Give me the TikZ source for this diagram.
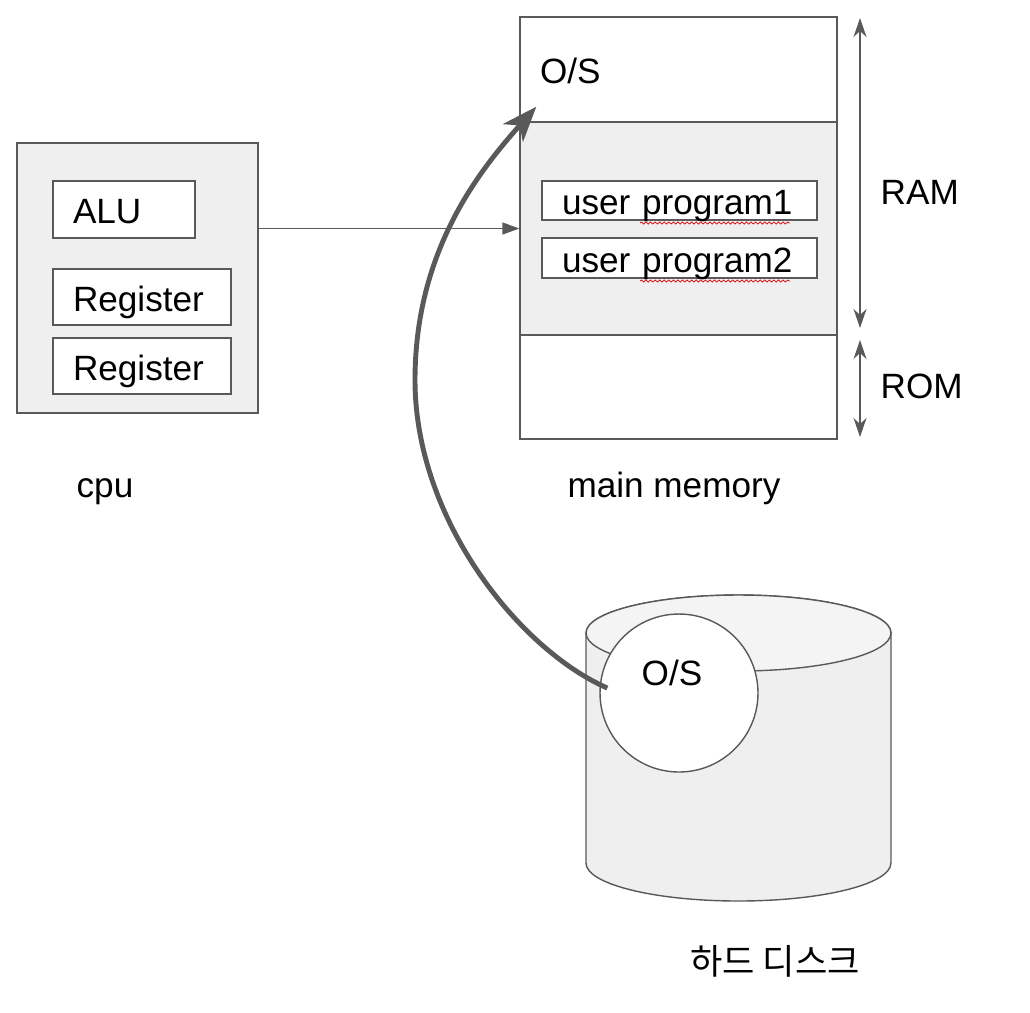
\documentclass[tikz,border=0pt]{standalone}
\usepackage{fontspec}
\setmainfont{Liberation Sans}
\newfontfamily\krfont{Noto Sans CJK KR}
\usetikzlibrary{arrows.meta,decorations.pathmorphing}
\definecolor{lineg}{HTML}{595959}
\definecolor{boxg}{HTML}{EFEFEF}
\definecolor{topg}{HTML}{F4F4F4}

\begin{document}
\begin{tikzpicture}[x=0.02cm,y=-0.02cm,line width=0.8pt,
  font=\fontsize{20}{24}\selectfont,
  box/.style={draw=lineg,fill=white,inner xsep=0.4cm,inner ysep=0pt,align=left,
    text height=18pt,text depth=2pt},
  area/.style={draw=lineg,fill=boxg,inner sep=0pt},
  lab/.style={inner sep=0pt},
  spell/.style={red!85!black,line width=0.4pt,decorate,
    decoration={snake,amplitude=0.6pt,segment length=2.6pt}},
  sizearrow/.style={lineg,{Stealth[length=0.38cm,width=0.26cm,inset=0.12cm]}-{Stealth[length=0.38cm,width=0.26cm,inset=0.12cm]}}]
\useasboundingbox (0,0) rectangle (1030,1012);

\node [area,minimum width=4.82cm,minimum height=5.4cm] (cpu) at (137.5,278) {};
\node [box,text width=2.04cm,minimum height=1.14cm] (alu) at (124,209.5) {ALU};
\node [box,text width=2.76cm,minimum height=1.12cm] (reg1) at (142,297) {Register};
\node [box,text width=2.76cm,minimum height=1.12cm] (reg2) at (142,366) {Register};
\node [lab,anchor=base] (cpulab) at (105,497) {cpu};

\node [box,text width=5.54cm,minimum height=2.1cm] (os) at (678.5,69.5) {O/S};
\node [area,minimum width=6.34cm,minimum height=4.26cm] (ram) at (678.5,228.5) {};
\node [area,fill=white,minimum width=6.34cm,minimum height=2.08cm] (rom) at (678.5,387) {};
\node [box,text width=4.7cm,minimum height=0.78cm] (up1) at (679.5,200.5) {user program1};
\node [box,text width=4.7cm,minimum height=0.8cm] (up2) at (679.5,258) {user program2};
\draw [spell] (640,223) -- (790,223);
\draw [spell] (640,281) -- (790,281);
\node [lab,anchor=base] (memlab) at (674,497) {main memory};

\draw [lineg,-{Triangle[length=0.34cm,width=0.24cm]}] (cpu.east |- ram.west) -- (ram.west);

\coordinate (ramtop) at (860,18);
\coordinate (rambot) at (860,328);
\coordinate (romtop) at (860,340);
\coordinate (rombot) at (860,437);
\draw [sizearrow] (ramtop) -- (rambot);
\draw [sizearrow] (romtop) -- (rombot);
\node [lab,anchor=west] (ramlab) at (880,192) {RAM};
\node [lab,anchor=west] (romlab) at (880,386) {ROM};

\draw [lineg,fill=boxg] (586,633) -- (586,863)
  arc [start angle=180,end angle=360,x radius=3.05cm,y radius=0.76cm] -- (891,633)
  arc [start angle=0,end angle=180,x radius=3.05cm,y radius=0.76cm] -- cycle;
\draw [lineg,fill=topg] (738.5,633) ellipse [x radius=3.05cm,y radius=0.76cm];
\node [draw=lineg,fill=white,circle,minimum size=3.16cm,inner sep=0pt] (dos) at (679,693) {};
\node [lab] (dostext) at (672,673) {O/S};
\node [lab] (disklab) at (775,961) {\krfont 하드 디스크};

\draw [line width=2.8pt,lineg,-{Stealth[length=0.7cm,width=0.53cm,inset=0.2cm]}]
  ([shift={(8,-5)}]dos.west) .. controls (520,650) and (415,520) .. (415,380)
  .. controls (415,250) and (480,170) .. ([shift={(17,-16)}]os.south west);

\end{tikzpicture}
\end{document}
